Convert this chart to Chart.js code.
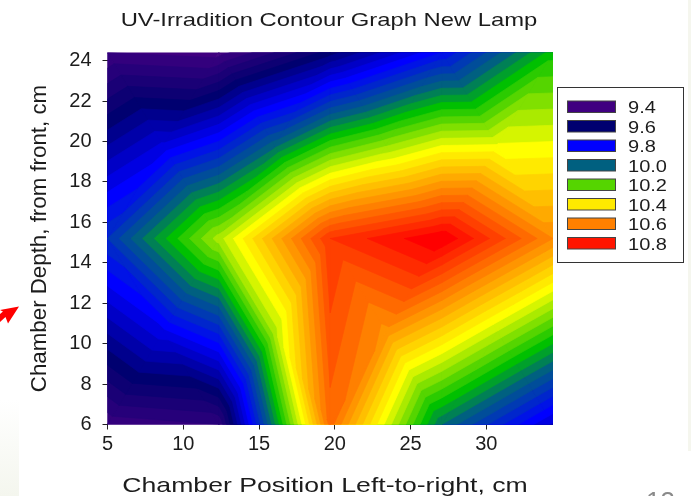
<!DOCTYPE html>
<html>
<head>
<meta charset="utf-8">
<style>
  body { margin: 0; background: #fff; overflow: hidden; }
</style>
<script src="https://cdn.jsdelivr.net/npm/chart.js@4"></script>
</head>
<body>
<canvas id="myChart" width="691" height="496"></canvas>
<script>
const xNodes = [5, 12.35, 19.7, 27.05, 34.4];
const yNodes = [6, 15.2, 24.4];
const row6 = [9.45, 9.48, 10.66, 10.04, 9.75];
const row15 = [9.92, 10.30, 10.76, 10.88, 10.60];
const row24 = [9.44, 9.42, 9.62, 9.84, 10.14];

const legendLevels = [9.4, 9.6, 9.8, 10.0, 10.2, 10.4, 10.6, 10.8];
const legendTexts = ['9.4', '9.6', '9.8', '10.0', '10.2', '10.4', '10.6', '10.8'];

// colour ramp, one band every 0.04
const rampLevels = [9.4, 9.6, 9.8, 10.0, 10.12, 10.36, 10.84];
const rampColors = [[64, 0, 128], [0, 0, 112], [0, 0, 255], [0, 96, 128], [0, 192, 0], [255, 255, 0], [255, 0, 0]];
const bandStep = 0.04;

function rampColor(v) {
  let i = 0;
  while (i < rampLevels.length - 2 && v > rampLevels[i + 1]) i++;
  let t = (v - rampLevels[i]) / (rampLevels[i + 1] - rampLevels[i]);
  t = Math.max(0, Math.min(1, t));
  const c = rampColors[i].map((a, k) => Math.round(a + (rampColors[i + 1][k] - a) * t));
  return 'rgb(' + c.join(',') + ')';
}

// keep the part of a triangle whose value is >= level
function clipAbove(tri, level) {
  const out = [];
  for (let i = 0; i < tri.length; i++) {
    const a = tri[i], b = tri[(i + 1) % tri.length];
    if (a.v >= level) out.push(a);
    if ((a.v >= level) !== (b.v >= level)) {
      const t = (level - a.v) / (b.v - a.v);
      out.push({ x: a.x + (b.x - a.x) * t, y: a.y + (b.y - a.y) * t, v: level });
    }
  }
  return out;
}

const contourPlugin = {
  id: 'contour',
  beforeDatasetsDraw(chart) {
    const ctx = chart.ctx, sx = chart.scales.x, sy = chart.scales.y, area = chart.chartArea;
    const rows = [row6, row15, row24];
    const tris = [];
    for (let j = 0; j < yNodes.length - 1; j++) {
      for (let i = 0; i < xNodes.length - 1; i++) {
        const p = (c, r) => ({ x: sx.getPixelForValue(xNodes[c]), y: sy.getPixelForValue(yNodes[r]), v: rows[r][c] });
        const a = p(i, j), b = p(i + 1, j), c = p(i + 1, j + 1), d = p(i, j + 1);
        // each cell is split in four around its centre
        const m = { x: (a.x + c.x) / 2, y: (a.y + c.y) / 2, v: (a.v + b.v + c.v + d.v) / 4 };
        tris.push([a, b, m], [b, c, m], [c, d, m], [d, a, m]);
      }
    }
    ctx.save();
    ctx.beginPath();
    ctx.rect(area.left, area.top, area.right - area.left, area.bottom - area.top);
    ctx.clip();
    ctx.lineWidth = 0.7;
    ctx.lineJoin = 'round';
    for (let n = 0; n < 42; n++) {
      const level = rampLevels[0] + n * bandStep;
      const col = rampColor(level);
      ctx.fillStyle = col;
      ctx.strokeStyle = col;
      tris.forEach(t => {
        const poly = n === 0 ? t : clipAbove(t, level);
        if (poly.length < 3) return;
        ctx.beginPath();
        poly.forEach((q, k) => k ? ctx.lineTo(q.x, q.y) : ctx.moveTo(q.x, q.y));
        ctx.closePath();
        ctx.fill();
        ctx.stroke();
      });
    }
    ctx.restore();
  }
};

// the slide image was stretched sideways, so text is drawn wider than tall
function wideText(ctx, text, x, y, size, stretch, angle) {
  ctx.save();
  ctx.translate(x, y);
  if (angle) ctx.rotate(angle);
  ctx.scale(stretch, 1);
  ctx.font = size + 'px "Liberation Sans", Arial, sans-serif';
  ctx.textBaseline = 'alphabetic';
  ctx.textAlign = 'center';
  ctx.fillText(text, 0, 0);
  ctx.restore();
}

const decorPlugin = {
  id: 'decor',
  afterDraw(chart) {
    const ctx = chart.ctx;
    ctx.save();
    ctx.fillStyle = '#1c1c1c';
    wideText(ctx, 'UV-Irradition Contour Graph New Lamp', 329, 25.5, 18.6, 1.28);
    wideText(ctx, 'Chamber Position Left-to-right, cm', 325, 491.5, 20.8, 1.28);
    wideText(ctx, 'Chamber Depth, from front, cm', 46, 238.5, 22.3, 1, -Math.PI / 2);

    // legend box
    ctx.strokeStyle = '#333';
    ctx.lineWidth = 1;
    ctx.strokeRect(557.5, 87.5, 126, 175);
    legendLevels.forEach((lev, i) => {
      const top = 101 + i * 19.5;
      ctx.fillStyle = rampColor(lev);
      ctx.fillRect(567.5, top, 48, 11.5);
      ctx.strokeStyle = '#444';
      ctx.strokeRect(567.5, top, 48, 11.5);
      ctx.fillStyle = '#1c1c1c';
      ctx.save();
      ctx.translate(628, top + 12);
      ctx.scale(1.2, 1);
      ctx.font = '16.7px "Liberation Sans", Arial, sans-serif';
      ctx.textAlign = 'left';
      ctx.textBaseline = 'alphabetic';
      ctx.fillText(legendTexts[i], 0, 0);
      ctx.restore();
    });

    // bits of the slide around the picture
    ctx.fillStyle = '#ff0000';
    ctx.beginPath();
    ctx.moveTo(19, 306.5);
    ctx.lineTo(8, 323.5);
    ctx.lineTo(5.5, 317);
    ctx.lineTo(0, 322);
    ctx.lineTo(0, 314);
    ctx.lineTo(3, 311.5);
    ctx.lineTo(0, 310);
    ctx.closePath();
    ctx.fill();

    const g = ctx.createLinearGradient(0, 400, 0, 496);
    g.addColorStop(0, '#ffffff');
    g.addColorStop(1, '#f4f6ee');
    ctx.fillStyle = g;
    ctx.fillRect(0, 400, 19, 96);
    ctx.fillStyle = '#f5f6ee';
    ctx.fillRect(688, 0, 3, 451);

    ctx.fillStyle = '#8a8a8a';
    ctx.font = '26px "Liberation Sans", Arial, sans-serif';
    ctx.textAlign = 'left';
    ctx.textBaseline = 'alphabetic';
    ctx.fillText('13', 646, 510);
    ctx.restore();
  }
};

const nodes = [];
[row6, row15, row24].forEach((r, j) => r.forEach((v, i) => nodes.push({ x: xNodes[i], y: yNodes[j], v: v })));

const tickFont = { family: '"Liberation Sans", Arial, sans-serif', size: 20 };
const tickGrid = { drawOnChartArea: false, drawTicks: true, tickLength: 5, color: '#222', lineWidth: 1 };

new Chart(document.getElementById('myChart').getContext('2d'), {
  type: 'scatter',
  data: { datasets: [{ label: 'UV irradiation', data: nodes, pointRadius: 0 }] },
  options: {
    responsive: false,
    animation: false,
    layout: { padding: { top: 52.5, right: 138, left: 0, bottom: 0 } },
    plugins: { legend: { display: false }, tooltip: { enabled: false } },
    scales: {
      x: {
        type: 'linear',
        min: 5,
        max: 34.4,
        grid: tickGrid,
        border: { display: false },
        ticks: { stepSize: 5, includeBounds: false, color: '#1c1c1c', font: tickFont, maxRotation: 0, padding: 3 },
        afterFit(s) { s.height = 71.5; }
      },
      y: {
        type: 'linear',
        min: 6,
        max: 24.4,
        grid: tickGrid,
        border: { display: false },
        ticks: { stepSize: 2, includeBounds: false, color: '#1c1c1c', font: tickFont, padding: 11 },
        afterFit(s) { s.width = 107.5; }
      }
    }
  },
  plugins: [contourPlugin, decorPlugin]
});
</script>
</body>
</html>
